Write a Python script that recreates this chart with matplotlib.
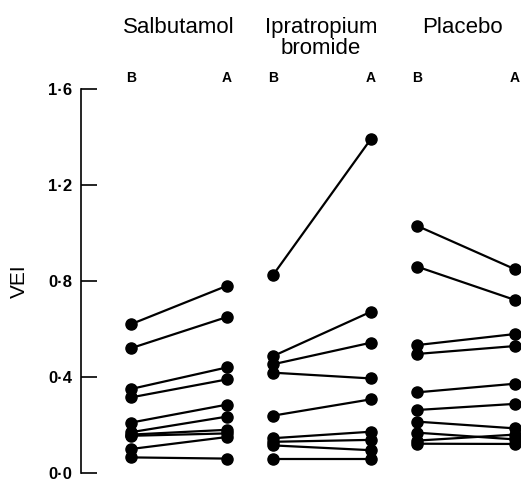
import matplotlib
matplotlib.use("Agg")
import matplotlib.pyplot as plt
from matplotlib.ticker import FixedLocator, FuncFormatter

plt.rcParams['font.family'] = ['Liberation Sans', 'DejaVu Sans']

groups = ["Salbutamol", "Ipratropium\nbromide", "Placebo"]
phase_labels = ["B", "A"]

salb_before = [0.62, 0.52, 0.35, 0.315, 0.21, 0.17, 0.16, 0.155, 0.10, 0.065]
salb_after = [0.78, 0.65, 0.44, 0.39, 0.285, 0.235, 0.18, 0.165, 0.15, 0.06]

ipra_before = [0.825, 0.487, 0.453, 0.418, 0.239, 0.145, 0.130, 0.115, 0.057]
ipra_after = [1.392, 0.672, 0.543, 0.394, 0.307, 0.172, 0.138, 0.095, 0.057]

plac_before = [1.03, 0.86, 0.533, 0.496, 0.336, 0.2625, 0.214, 0.168, 0.135, 0.122]
plac_after = [0.849, 0.721, 0.579, 0.529, 0.372, 0.288, 0.186, 0.140, 0.160, 0.121]

yticks = [0.0, 0.4, 0.8, 1.2, 1.6]

series = [(salb_before, salb_after), (ipra_before, ipra_after), (plac_before, plac_after)]
group_x = [(0.0, 1.0), (1.48, 2.5), (2.98, 4.0)]
title_x = [0.5, 1.98, 3.45]

fig = plt.figure(figsize=(5.21, 4.82), dpi=100)
ax = fig.add_axes([80.7 / 521, 9 / 482, 440 / 521, 384 / 482])

for (before, after), (xb, xa) in zip(series, group_x):
    for b, a in zip(before, after):
        ax.plot([xb, xa], [b, a], color='black', lw=1.6, marker='o',
                markersize=8, markerfacecolor='black', markeredgecolor='black',
                clip_on=False, zorder=3)
    ax.text(xb, 1.645, phase_labels[0], ha='center', va='center',
            fontsize=10, fontweight='bold')
    ax.text(xa, 1.645, phase_labels[1], ha='center', va='center',
            fontsize=10, fontweight='bold')

line_gap = 0.0875
for name, tx in zip(groups, title_x):
    for i, line in enumerate(name.split("\n")):
        ax.text(tx, 1.833 - i * line_gap, line, ha='center', va='baseline',
                fontsize=16)

ax.set_xlim(-0.524, 4.06)
ax.set_ylim(0.0, 1.6)
for s in ['top', 'right', 'bottom']:
    ax.spines[s].set_visible(False)
ax.spines['left'].set_linewidth(1.2)
ax.spines['left'].set_bounds(0.0, 1.6)
ax.set_xticks([])
ax.yaxis.set_major_locator(FixedLocator(yticks))
ax.yaxis.set_major_formatter(FuncFormatter(lambda v, p: f"{v:.1f}".replace('.', '\u00b7')))
ax.tick_params(axis='y', direction='in', length=11.5, width=1.2, pad=6,
               labelsize=12)
for lab in ax.get_yticklabels():
    lab.set_fontweight('bold')
ax.set_ylabel("VEI", fontsize=15, labelpad=14)

fig.savefig("out.png", dpi=100)
